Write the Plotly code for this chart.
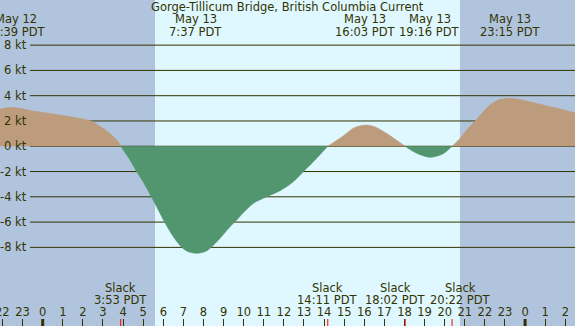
import plotly.graph_objects as go

# ---- data (hours relative to May 13 00:00 PDT, current in knots) ----
hours = [-2.3, -1.63, -1.13, -0.47, 0.36, 1.19, 2.02, 2.43, 3.01, 3.43, 3.76, 3.883,
         4.34, 4.68, 5.04, 5.42, 5.75, 6.08, 6.50, 6.92, 7.24, 7.66, 8.07, 8.32,
         8.82, 9.32, 9.65, 9.98, 10.48, 11.14, 11.81, 12.47, 12.97, 13.55, 14.183,
         14.96, 15.5, 16.1, 16.6, 17.11, 17.6, 18.033,
         18.6, 19.27, 19.9, 20.367,
         20.76, 21.09, 21.51, 21.84, 22.25, 22.67, 23.25, 23.83, 24.58, 25.4, 26.48, 26.7]
knots = [2.86, 3.08, 3.0, 2.78, 2.6, 2.39, 2.15, 1.97, 1.42, 0.89, 0.36, 0.0,
         -1.09, -2.02, -2.94, -4.04, -5.05, -6.05, -7.16, -8.0, -8.35, -8.47, -8.35, -8.08,
         -7.29, -6.37, -5.84, -5.26, -4.52, -4.0, -3.52, -2.81, -2.02, -1.09, 0.0,
         0.83, 1.47, 1.68, 1.49, 1.02, 0.49, 0.0,
         -0.56, -0.88, -0.62, 0.0,
         0.62, 1.28, 1.99, 2.6, 3.26, 3.66, 3.79, 3.66, 3.39, 3.08, 2.65, 2.56]

event_hours = [-1.35, 7.617, 16.05, 19.267, 23.25]
event_dates = ["May 12", "May 13", "May 13", "May 13", "May 13"]
event_times = ["22:39 PDT", "7:37 PDT", "16:03 PDT", "19:16 PDT", "23:15 PDT"]

slack_hours = [3.883, 14.183, 18.033, 20.367]
slack_times = ["3:53 PDT", "14:11 PDT", "18:02 PDT", "20:22 PDT"]
slack_shift = [0, 0, -10, 8]

tick_hours = list(range(-2, 27))
tick_labels = [str(h % 24) for h in tick_hours]
midnights = [0, 24]

y_ticks = [-8, -6, -4, -2, 0, 2, 4, 6, 8]
y_labels = [f"{v} kt" for v in y_ticks]

sunrise = 5.587
sunset = 20.76
title = "Gorge-Tillicum Bridge, British Columbia Current"

# ---- style ----
W, H = 575, 326
X_RANGE = [-2.124, 26.483]
Y_RANGE = [-14.22, 11.57]
TXT = "#333300"
FONT = "DejaVu Sans"
FS = 11.5
NIGHT = "#B0C4DE"
DAY = "#DFF7FF"
FLOOD = "#BC9C7C"
EBB = "#52966F"

fig = go.Figure()

# split into segments at slack (zero) points
segments = []
cur_x, cur_y = [], []
for h, v in zip(hours, knots):
    cur_x.append(h)
    cur_y.append(v)
    if v == 0 and len(cur_x) > 1:
        segments.append((cur_x, cur_y))
        cur_x, cur_y = [h], [v]
if len(cur_x) > 1:
    segments.append((cur_x, cur_y))

for sx, sy in segments:
    positive = sum(sy) > 0
    col = FLOOD if positive else EBB
    fig.add_trace(go.Scatter(
        x=sx, y=sy, mode="lines", fill="tozeroy", fillcolor=col,
        line=dict(color=col, width=0.5, shape="spline", smoothing=0.8),
        hoverinfo="skip", showlegend=False))

shapes = []
# night shading
shapes.append(dict(type="rect", xref="x", yref="paper", x0=X_RANGE[0] - 1, x1=sunrise,
                   y0=0, y1=1, fillcolor=NIGHT, line=dict(width=0), layer="below"))
shapes.append(dict(type="rect", xref="x", yref="paper", x0=sunset, x1=X_RANGE[1] + 1,
                   y0=0, y1=1, fillcolor=NIGHT, line=dict(width=0), layer="below"))
# horizontal grid lines
gx0 = X_RANGE[0] + 30 / W * (X_RANGE[1] - X_RANGE[0])
for v in y_ticks:
    shapes.append(dict(type="line", xref="x", yref="y", x0=gx0, x1=X_RANGE[1] + 1,
                       y0=v, y1=v, line=dict(color=TXT, width=1), layer="below"))
# midnight thick ticks
tick_len = 7 / H
for m in midnights:
    shapes.append(dict(type="line", xref="x", yref="paper", x0=m, x1=m, y0=0, y1=tick_len,
                       line=dict(color=TXT, width=3), layer="above"))
# slack red ticks
for s in slack_hours:
    shapes.append(dict(type="line", xref="x", yref="paper", x0=s, x1=s, y0=0, y1=tick_len,
                       line=dict(color="#FF0000", width=1), layer="above"))

annotations = []
def ypaper(py):
    return 1 - py / H

def txt(**kw):
    d = dict(showarrow=False, xanchor="center", yanchor="middle",
             font=dict(family=FONT, size=FS, color=TXT))
    d.update(kw)
    return d

annotations.append(txt(text=title, xref="paper", yref="paper", x=0.5, y=ypaper(7.5)))
for h, d, t in zip(event_hours, event_dates, event_times):
    annotations.append(txt(text=d, xref="x", yref="paper", x=h, y=ypaper(19.5)))
    annotations.append(txt(text=t, xref="x", yref="paper", x=h, y=ypaper(31.5)))
for h, t, sh in zip(slack_hours, slack_times, slack_shift):
    annotations.append(txt(text="Slack", xref="x", yref="paper", x=h, y=ypaper(287.5), xshift=sh))
    annotations.append(txt(text=t, xref="x", yref="paper", x=h, y=ypaper(299.5), xshift=sh))
for v, lab in zip(y_ticks, y_labels):
    annotations.append(txt(text=lab, xref="paper", yref="y", x=28.5 / W, y=v, xanchor="right"))
# first hour label sits partly outside the frame (plotly hides it), draw it explicitly
annotations.append(txt(text=tick_labels[0], xref="x", yref="paper", x=tick_hours[0], y=ypaper(311.5)))

fig.update_layout(
    width=W, height=H, margin=dict(l=0, r=0, t=0, b=0, pad=0),
    paper_bgcolor=DAY, plot_bgcolor=DAY,
    shapes=shapes, annotations=annotations, showlegend=False,
    xaxis=dict(range=X_RANGE, tickvals=tick_hours, ticktext=tick_labels,
               ticks="inside", ticklen=7, tickwidth=1, tickcolor=TXT,
               ticklabelposition="inside", showgrid=False, zeroline=False,
               showline=False, tickfont=dict(family=FONT, size=FS, color=TXT),
               fixedrange=True),
    yaxis=dict(range=Y_RANGE, visible=False, showgrid=False, zeroline=False,
               fixedrange=True),
)

fig.write_html("out.html", config={"displayModeBar": False},
               post_script="document.body.style.margin='0';document.body.style.overflow='hidden';")
